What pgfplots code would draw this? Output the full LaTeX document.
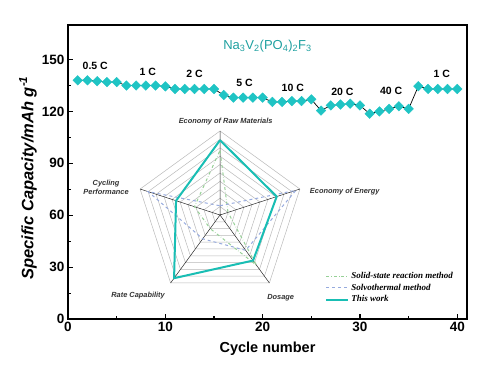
\documentclass[border=0pt]{standalone}
\usepackage{pgfplots}
\pgfplotsset{compat=1.18}
\usepackage{pgfplotstable}
\usepgfplotslibrary{polar}
\usepackage{fontspec}
\setmainfont{Liberation Sans}
\newfontfamily\legendfont{Liberation Serif}
\definecolor{mk}{RGB}{31,196,196}
\definecolor{titleteal}{RGB}{30,160,160}
\definecolor{tw}{RGB}{25,190,180}
\definecolor{ssgreen}{RGB}{150,208,150}
\definecolor{svblue}{RGB}{150,170,222}
\definecolor{gridgray}{RGB}{185,185,185}

\pgfplotstableread{
x y
1 138
2 138
3 137.5
4 137
5 137
6 135
7 135
8 135
9 135
10 134.5
11 133
12 133
13 133
14 133
15 133
16 129.5
17 128
18 128
19 128
20 128
21 125.5
22 125.5
23 126
24 126
25 127
26 120.5
27 123.5
28 124
29 124.5
30 123.5
31 118.7
32 120
33 121.5
34 123
35 121.5
36 134.6
37 133
38 133
39 133
40 133
}\capdata

\begin{document}
\begin{tikzpicture}
\useasboundingbox (-68pt,-60pt) rectangle (432pt,319pt);
\begin{axis}[
  at={(0pt,0pt)}, anchor=south west,
  scale only axis, width=399pt, height=294pt,
  xmin=0, xmax=41, ymin=0, ymax=170,
  xtick={0,10,20,30,40}, ytick={0,30,60,90,120,150},
  minor x tick num=1, minor y tick num=1,
  tick pos=left, tick align=inside,
  major tick length=5pt, minor tick length=3pt,
  every tick/.style={black, line width=1.1pt},
  axis line style={line width=1.5pt},
  /pgf/number format/assume math mode=true,
  ticklabel style={font=\fontsize{13.5}{15}\selectfont\bfseries},
  xlabel={Cycle number},
  ylabel={Specific Capacity/mAh g\textsuperscript{-1}},
  xlabel style={font=\fontsize{14.5}{16}\selectfont\bfseries, at={(axis description cs:0.5,-0.1)}, anchor=center},
  ylabel style={font=\fontsize{16.5}{18}\selectfont\bfseries\itshape, at={(axis description cs:-0.1,0.48)}, anchor=center},
  legend style={at={(0.642,0.17)}, anchor=north west, draw=none, fill=none,
    font=\legendfont\bfseries\itshape\fontsize{9}{10}\selectfont, row sep=0pt,
    inner sep=1pt},
  legend cell align=left,
  legend image code/.code={\draw[#1] (0pt,0pt) -- (22pt,0pt);},
  clip=false,
]
\addplot[black, line width=0.7pt, forget plot] table[x=x,y=y] {\capdata};
\addplot[only marks, mark=square*, mark size=3.4pt, mark options={rotate=45, fill=mk, draw=mk}, forget plot] table[x=x,y=y] {\capdata};

\addlegendimage{ssgreen, dash dot, line width=1pt}
\addlegendentry{Solid-state reaction method}
\addlegendimage{svblue, dashed, line width=1pt}
\addlegendentry{Solvothermal method}
\addlegendimage{tw, line width=2pt}
\addlegendentry{This work}

\node[font=\fontsize{13}{15}\selectfont, text=titleteal] at (axis cs:20.5,158) {Na\textsubscript{3}V\textsubscript{2}(PO\textsubscript{4})\textsubscript{2}F\textsubscript{3}};

\begin{scope}[font=\fontsize{10.5}{12}\selectfont\bfseries]
\node at (axis cs:2.8,146.6) {0.5 C};
\node at (axis cs:8.2,142.7) {1 C};
\node at (axis cs:13.0,141.8) {2 C};
\node at (axis cs:18.15,136.4) {5 C};
\node at (axis cs:23.1,133.7) {10 C};
\node at (axis cs:28.2,131.2) {20 C};
\node at (axis cs:33.2,131.7) {40 C};
\node at (axis cs:38.4,141.8) {1 C};
\end{scope}

\begin{scope}[font=\fontsize{7.4}{8.5}\selectfont\bfseries\itshape, text=black!80]
\node at (axis cs:16.2,114.3) {Economy of Raw Materials};
\node[anchor=west] at (axis cs:24.5,73.9) {Economy of Energy};
\node at (axis cs:21.85,12.1) {Dosage};
\node at (axis cs:7.2,13.3) {Rate Capability};
\node[anchor=east, align=center] at (axis cs:6.6,76) {Cycling\\Performance};
\end{scope}
\end{axis}

\begin{polaraxis}[
  at={(152pt,104pt)}, anchor=origin,
  scale only axis, width=168pt, height=168pt,
  xmin=0, xmax=360, ymin=0, ymax=1,
  hide axis, clip=false,
]
\pgfplotsinvokeforeach{0.1,0.2,0.3,0.4,0.5,0.6,0.7,0.8,0.9,1.0}{
  \addplot[gridgray, line width=0.5pt, forget plot] coordinates {(90,#1) (18,#1) (306,#1) (234,#1) (162,#1) (90,#1)};
}
\addplot[black!85, line width=0.5pt, forget plot] coordinates {(90,1) (0,0) (18,1)};
\addplot[black!85, line width=0.5pt, forget plot] coordinates {(306,1) (0,0) (234,1)};
\addplot[black!85, line width=0.5pt, forget plot] coordinates {(162,1) (0,0)};
% Solid-state reaction method
\addplot[ssgreen, dash dot, line width=1pt, forget plot] coordinates {(90,0.77) (18,0.1) (306,0.74) (234,0.2) (162,0.32) (90,0.77)};
% Solvothermal method
\addplot[svblue, dashed, line width=1pt, forget plot] coordinates {(90,0.11) (18,0.95) (306,0.52) (234,0.35) (162,0.9) (90,0.11)};
% This work
\addplot[tw, line width=2pt, line join=round, forget plot] coordinates {(90,0.89) (18,0.71) (306,0.67) (234,0.93) (162,0.55) (90,0.89)};
\end{polaraxis}
\end{tikzpicture}
\end{document}
